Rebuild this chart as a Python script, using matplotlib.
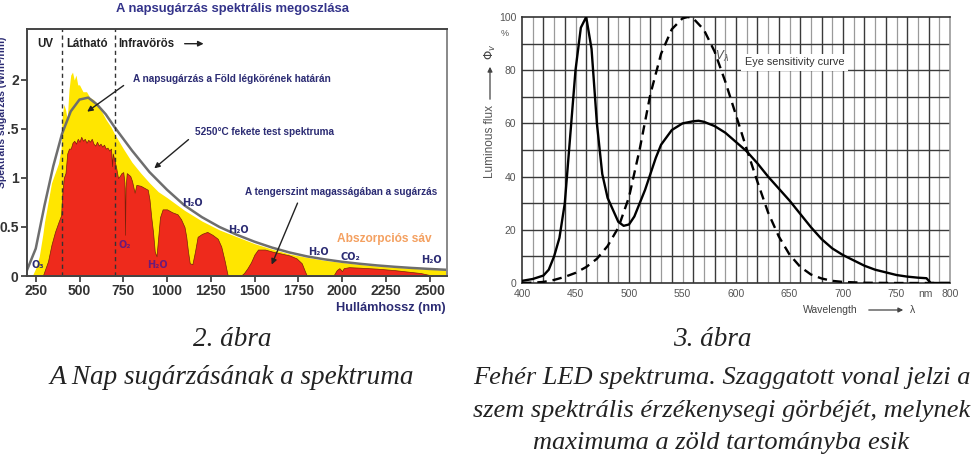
import matplotlib
matplotlib.use('Agg')
import matplotlib.pyplot as plt
import numpy as np

plt.rcParams['font.family'] = ['Liberation Sans', 'DejaVu Sans']

W, H = 972, 466

# ---------------- data: solar spectrum (left) ----------------
bb_nm = [200, 250, 300, 350, 400, 450, 500, 550, 600, 650, 700, 750, 800, 900, 1000,
         1100, 1200, 1300, 1400, 1500, 1600, 1700, 1800, 1900, 2000, 2100, 2200, 2300,
         2400, 2500, 2600]
bb_val = [0.06, 0.28, 0.72, 1.12, 1.45, 1.68, 1.80, 1.82, 1.75, 1.65, 1.52, 1.40, 1.28,
          1.06, 0.88, 0.72, 0.60, 0.50, 0.42, 0.35, 0.29, 0.24, 0.20, 0.17, 0.145, 0.125,
          0.108, 0.094, 0.082, 0.072, 0.063]

am0_nm = [230, 250, 270, 290, 300, 320, 340, 360, 380, 395, 400, 410, 420, 430, 440,
          450, 460, 470, 480, 490, 500, 520, 540, 560, 580, 600, 620, 650, 680, 700,
          750, 800, 850, 900, 950, 1000, 1100, 1200, 1300, 1400, 1500, 1600, 1700,
          1800, 1900, 2000, 2100, 2200, 2300, 2400, 2500, 2600]
am0_val = [0.0, 0.08, 0.2, 0.42, 0.55, 0.75, 0.95, 1.05, 1.15, 1.3, 1.6, 1.75, 1.7,
           1.6, 1.9, 2.05, 2.08, 2.0, 2.05, 1.95, 1.95, 1.88, 1.88, 1.82, 1.80, 1.76,
           1.70, 1.60, 1.52, 1.45, 1.30, 1.16, 1.05, 0.95, 0.86, 0.80, 0.67, 0.56, 0.47,
           0.40, 0.33, 0.275, 0.225, 0.19, 0.16, 0.138, 0.118, 0.102, 0.089, 0.078,
           0.068, 0.06]

sea_nm = [290, 300, 320, 340, 360, 380, 395, 400, 410, 420, 430, 440, 450, 460, 470,
          480, 490, 500, 510, 520, 530, 540, 550, 560, 570, 580, 590, 600, 610, 620,
          630, 640, 650, 660, 670, 680, 686, 690, 700, 710, 720, 730, 740, 750, 757,
          760, 763, 770, 790, 800, 815, 825, 850, 870, 890, 900, 910, 920, 930, 940,
          950, 960, 975, 1000, 1030, 1060, 1080, 1100, 1110, 1120, 1130, 1145, 1160,
          1175, 1200, 1230, 1260, 1290, 1310, 1330, 1345, 1350, 1420, 1440, 1460,
          1480, 1500, 1520, 1560, 1600, 1650, 1700, 1740, 1770, 1790, 1800, 1950,
          1970, 1985, 2000, 2010, 2040, 2100, 2200, 2300, 2400, 2450, 2500, 2520]
sea_val = [0.0, 0.05, 0.15, 0.32, 0.45, 0.55, 0.62, 0.8, 1.0, 1.05, 1.25, 1.30, 1.30,
           1.36, 1.38, 1.35, 1.40, 1.37, 1.42, 1.38, 1.40, 1.36, 1.39, 1.37, 1.40, 1.35,
           1.33, 1.37, 1.33, 1.35, 1.32, 1.34, 1.30, 1.31, 1.28, 1.30, 1.12, 1.25, 1.18,
           1.10, 1.0, 1.02, 1.05, 1.06, 0.95, 0.42, 0.9, 1.05, 1.02, 0.97, 0.85, 0.93,
           0.92, 0.90, 0.88, 0.78, 0.6, 0.45, 0.25, 0.2, 0.4, 0.6, 0.68, 0.68, 0.65,
           0.63, 0.58, 0.50, 0.40, 0.25, 0.13, 0.12, 0.25, 0.40, 0.43, 0.45, 0.42, 0.38,
           0.30, 0.15, 0.02, 0.0, 0.0, 0.03, 0.08, 0.14, 0.22, 0.27, 0.27, 0.25, 0.23,
           0.21, 0.18, 0.13, 0.04, 0.0, 0.0, 0.06, 0.08, 0.05, 0.08, 0.09, 0.085, 0.075,
           0.06, 0.04, 0.03, 0.01, 0.0]

x1_ticks = [250, 500, 750, 1000, 1250, 1500, 1750, 2000, 2250, 2500]
y1_ticks = [0, 0.5, 1, 1.5, 2]
y1_labels = ['0', '0.5', '1', '1.5', '2']

# ---------------- data: white LED (right) ----------------
led_nm = [400, 410, 420, 425, 430, 435, 440, 445, 450, 455, 460, 465, 470, 475, 480,
          485, 490, 495, 500, 505, 510, 515, 520, 525, 530, 540, 550, 560, 565, 570,
          580, 590, 600, 610, 620, 630, 640, 650, 660, 670, 680, 690, 700, 710, 720,
          730, 740, 750, 760, 770, 778, 782, 800]
led_val = [0.8, 1.5, 2.8, 5, 10, 17, 30, 55, 80, 96, 100, 88, 60, 41, 32, 27.5, 23,
           21.5, 22, 25, 30, 35, 41, 47, 52, 57.5, 60, 60.8, 61, 60.6, 59, 56.5, 53,
           49.5, 45, 40, 35.5, 31, 26, 21, 16.5, 13, 10.5, 8.5, 6.5, 5, 4, 3, 2.4, 2,
           1.8, 0, 0]

eye_nm = [400, 410, 420, 430, 440, 450, 460, 470, 480, 490, 500, 510, 520, 530, 540,
          550, 555, 560, 570, 580, 590, 600, 610, 620, 630, 640, 650, 660, 670, 680,
          690, 700, 720, 750, 800]
eye_val = [0.04, 0.12, 0.4, 1.16, 2.3, 3.8, 6.0, 9.1, 13.9, 20.8, 32.3, 50.3, 71.0,
           86.2, 95.4, 99.5, 100, 99.5, 95.2, 87.0, 75.7, 63.1, 50.3, 38.1, 26.5, 17.5,
           10.7, 6.1, 3.2, 1.7, 0.8, 0.4, 0.1, 0, 0]

x2_ticks = [400, 450, 500, 550, 600, 650, 700, 750, 777, 800]
x2_labels = ['400', '450', '500', '550', '600', '650', '700', '750', 'nm', '800']
y2_ticks = [0, 20, 40, 60, 80, 100]

# ---------------- figure ----------------
fig = plt.figure(figsize=(9.72, 4.66), dpi=100)


def fx(x):
    return x / W


def fy(y):
    return 1 - y / H


NAVY = '#2b2b73'
ANN = 7.2

# ---- left chart ----
ax1 = fig.add_axes([fx(27), fy(276), 420 / W, 247 / H])
ax1.fill_between(am0_nm, am0_val, color='#FFE600', lw=0)
ax1.fill_between(sea_nm, sea_val, facecolor='#EE2A1C', edgecolor='#7a1f0a', lw=0.5)
ax1.plot(bb_nm, bb_val, color='#6e6e6e', lw=1.8)
ax1.set_xlim(200, 2600)
ax1.set_ylim(0, 2.52)
for v in (400, 700):
    ax1.axvline(v, color='#333333', ls=(0, (3, 2.5)), lw=1)
ax1.set_xticks(x1_ticks)
ax1.set_xticklabels([str(t) for t in x1_ticks])
ax1.set_yticks(y1_ticks)
ax1.set_yticklabels(y1_labels)
ax1.tick_params(axis='both', labelsize=10, colors='#333333', length=4, width=1.2, pad=2)
for lab in ax1.get_xticklabels() + ax1.get_yticklabels():
    lab.set_fontweight('bold')
for s in ax1.spines.values():
    s.set_color('#444444')
    s.set_linewidth(1.4)
ax1.spines['right'].set_color('#888888')

ax1.text(302, 2.37, 'UV', ha='center', va='center', fontsize=8.3, fontweight='bold', color='#222222')
ax1.text(545, 2.37, 'Látható', ha='center', va='center', fontsize=8.3, fontweight='bold', color='#222222')
ax1.text(720, 2.37, 'Infravörös', ha='left', va='center', fontsize=8.3, fontweight='bold', color='#222222')
ax1.annotate('', xy=(1225, 2.37), xytext=(1085, 2.37),
             arrowprops=dict(arrowstyle='-|>', color='#222222', lw=1, mutation_scale=8))

ax1.text(806, 2.01, 'A napsugárzás a Föld légkörének határán', ha='left', va='center',
         fontsize=ANN, fontweight='bold', color=NAVY)
ax1.annotate('', xy=(531, 1.66), xytext=(765, 1.96),
             arrowprops=dict(arrowstyle='-|>', color='#222222', lw=1, mutation_scale=8))
ax1.text(1162, 1.47, '5250°C fekete test spektruma', ha='left', va='center',
         fontsize=ANN, fontweight='bold', color=NAVY)
ax1.annotate('', xy=(915, 1.08), xytext=(1135, 1.41),
             arrowprops=dict(arrowstyle='-|>', color='#222222', lw=1, mutation_scale=8))
ax1.text(1448, 0.86, 'A tengerszint magasságában a sugárzás', ha='left', va='center',
         fontsize=ANN, fontweight='bold', color=NAVY)
ax1.annotate('', xy=(1592, 0.09), xytext=(1752, 0.77),
             arrowprops=dict(arrowstyle='-|>', color='#222222', lw=1, mutation_scale=8))

chem = [(1144, 0.74, 'H₂O', NAVY), (1408, 0.47, 'H₂O', NAVY), (1867, 0.24, 'H₂O', NAVY),
        (2509, 0.16, 'H₂O', NAVY), (2050, 0.19, 'CO₂', NAVY), (262, 0.11, 'O₃', NAVY),
        (944, 0.11, 'H₂O', '#6a1b7a'), (760, 0.32, 'O₂', '#6a1b7a')]
for x, y, t, c in chem:
    ax1.text(x, y, t, ha='center', va='center', fontsize=7, fontweight='bold', color=c,
             family=['DejaVu Sans'])
ax1.text(2240, 0.38, 'Abszorpciós sáv', ha='center', va='center', fontsize=8.6,
         fontweight='bold', color='#F4A060')

fig.text(fx(232), fy(9), 'A napsugárzás spektrális megoszlása', ha='center', va='center',
         fontsize=9.4, fontweight='bold', color='#33338a')
fig.text(fx(446), fy(308), 'Hullámhossz (nm)', ha='right', va='center',
         fontsize=9.2, fontweight='bold', color=NAVY)
fig.text(fx(2), fy(112), 'Spektrális sugárzás (W/m²/nm)', rotation=90, ha='center', va='center',
         fontsize=7.5, fontweight='bold', color=NAVY,
         bbox=dict(facecolor='white', edgecolor='none', pad=1))

# ---- right chart ----
ax2 = fig.add_axes([fx(522), fy(283), 428 / W, 266 / H])
ax2.set_xlim(400, 800)
ax2.set_ylim(0, 100)
for v in np.arange(410, 800, 10):
    dark = (v % 20 == 0)
    ax2.axvline(v, color='#3a3a3a' if dark else '#9a9a9a', lw=1.0 if dark else 0.9, zorder=1)
for h in np.arange(10, 100, 10):
    ax2.axhline(h, color='#3a3a3a', lw=1.0, zorder=1)
ax2.plot(eye_nm, eye_val, color='black', lw=1.7, ls=(0, (4, 2.5)), zorder=3)
ax2.plot(led_nm, led_val, color='black', lw=1.7, zorder=3)
ax2.set_xticks(x2_ticks)
ax2.set_xticklabels(x2_labels)
ax2.set_yticks(y2_ticks)
ax2.tick_params(axis='both', labelsize=7.5, colors='#555555', length=0, pad=4)
for s in ax2.spines.values():
    s.set_color('#333333')
    s.set_linewidth(1.2)
ax2.spines['right'].set_color('#999999')

ax2.text(587, 85, r'$V_\lambda$', ha='center', va='center', fontsize=8.5, color='#555555', zorder=4)
ax2.text(608, 83, 'Eye sensitivity curve', ha='left', va='center', fontsize=7.8, color='#333333',
         zorder=4, bbox=dict(facecolor='white', edgecolor='none', pad=2.5))

fig.text(fx(505), fy(33), '%', ha='center', va='center', fontsize=6.5, color='#555555')
fig.text(fx(490), fy(142), 'Luminous flux', rotation=90, ha='center', va='center',
         fontsize=8.5, color='#555555')
fig.add_artist(matplotlib.patches.FancyArrowPatch((fx(490), fy(102)), (fx(490), fy(64)),
                                                  transform=fig.transFigure, arrowstyle='-|>',
                                                  mutation_scale=7, color='#444444', lw=0.9))
fig.text(fx(490), fy(52), r'$\Phi_v$', rotation=90, ha='center', va='center',
         fontsize=8.5, color='#444444')
fig.text(fx(830), fy(310), 'Wavelength', ha='center', va='center', fontsize=7.5, color='#444444')
fig.add_artist(matplotlib.patches.FancyArrowPatch((fx(866), fy(310)), (fx(906), fy(310)),
                                                  transform=fig.transFigure, arrowstyle='-|>',
                                                  mutation_scale=7, color='#444444', lw=0.9))
fig.text(fx(913), fy(310), 'λ', ha='center', va='center', fontsize=7.5, color='#444444')

# ---- captions ----
cap = dict(ha='center', va='center', fontsize=19.5, style='italic', color='#222222',
           family=['Liberation Serif', 'DejaVu Serif'])
fig.text(fx(232), fy(340), '2. ábra', **cap)
fig.text(fx(232), fy(378), 'A Nap sugárzásának a spektruma', **cap)
fig.text(fx(712), fy(340), '3. ábra', **cap)
cap['fontsize'] = 19
fig.text(fx(722), fy(378), 'Fehér LED spektruma. Szaggatott vonal jelzi a', **cap)
fig.text(fx(722), fy(411), 'szem spektrális érzékenysegi görbéjét, melynek', **cap)
fig.text(fx(721), fy(443), 'maximuma a zöld tartományba esik', **cap)

fig.savefig('out.png', dpi=100, facecolor='white')
